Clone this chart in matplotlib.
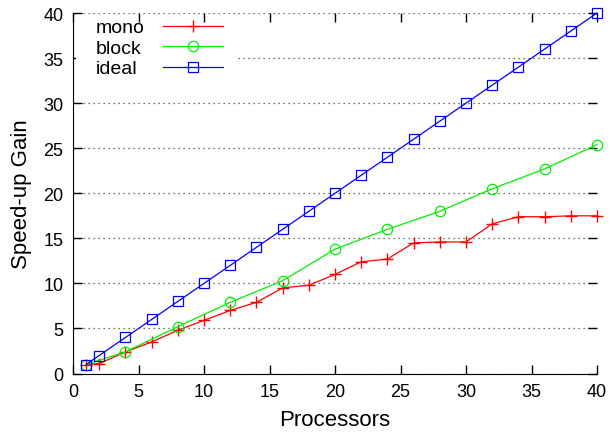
import matplotlib
matplotlib.use("Agg")
import matplotlib.pyplot as plt
from matplotlib.patches import Rectangle

# Dados
proc_mono = [1, 2, 4, 6, 8, 10, 12, 14, 16, 18, 20, 22, 24, 26, 28, 30, 32, 34, 36, 38, 40]
gain_mono = [1.0, 1.1, 2.4, 3.5, 4.8, 5.9, 7.0, 7.9, 9.5, 9.8, 11.0, 12.4, 12.7, 14.5, 14.6, 14.6, 16.6, 17.4, 17.4, 17.5, 17.5]

proc_block = [1, 4, 8, 12, 16, 20, 24, 28, 32, 36, 40]
gain_block = [1.0, 2.4, 5.2, 7.9, 10.3, 13.8, 16.0, 18.0, 20.5, 22.7, 25.4]

proc_ideal = [1, 2, 4, 6, 8, 10, 12, 14, 16, 18, 20, 22, 24, 26, 28, 30, 32, 34, 36, 38, 40]
gain_ideal = [1, 2, 4, 6, 8, 10, 12, 14, 16, 18, 20, 22, 24, 26, 28, 30, 32, 34, 36, 38, 40]

x_ticks = [0, 5, 10, 15, 20, 25, 30, 35, 40]
y_ticks = [0, 5, 10, 15, 20, 25, 30, 35, 40]

plt.rcParams['font.family'] = ['Liberation Sans', 'DejaVu Sans']

fig = plt.figure(figsize=(6.09, 4.35), dpi=100)
ax = fig.add_axes([0.1199, 0.139, 0.8604, 0.8287])

ax.plot(proc_mono, gain_mono, color='#ff0000', lw=0.9, marker='+', ms=8, mew=1, label='mono', clip_on=False, zorder=3)
ax.plot(proc_block, gain_block, color='#00ee00', lw=0.9, marker='o', ms=7.5, mfc='none', mew=0.9, label='block', clip_on=False, zorder=3)
ax.plot(proc_ideal, gain_ideal, color='#0000ff', lw=0.9, marker='s', ms=7, mfc='none', mew=0.9, label='ideal', clip_on=False, zorder=3)

ax.set_xlim(0, 40)
ax.set_ylim(0, 40)
ax.set_xticks(x_ticks)
ax.set_yticks(y_ticks)
ax.tick_params(direction='in', length=6.5, width=1, top=True, right=True, labelsize=13, pad=7)
ax.spines['top'].set_visible(False)
ax.spines['right'].set_visible(False)
ax.yaxis.grid(True, linestyle=(0, (1, 3)), color='#444444', lw=0.9)
ax.set_axisbelow(True)

# fundo branco atrás da legenda (esconde a grade)
ax.add_patch(Rectangle((0.005, 0.82), 0.305, 0.13, transform=ax.transAxes,
                       facecolor='white', edgecolor='none', zorder=1))

ax.set_xlabel('Processors', fontsize=16, labelpad=6)
ax.set_ylabel('Speed-up Gain', fontsize=16, labelpad=8)

leg = ax.legend(loc='upper left', bbox_to_anchor=(0.044, 0.984), frameon=False,
                markerfirst=False, fontsize=14, handlelength=3.1, labelspacing=0.15,
                borderaxespad=0, handletextpad=0.93, borderpad=0)

# alinhar os textos da legenda à esquerda, mantendo as linhas alinhadas
fig.canvas.draw()
r = fig.canvas.get_renderer()
col = leg._legend_handle_box.get_children()[0]
col.align = 'left'
larguras = [t.get_window_extent(r).width for t in leg.get_texts()]
wmax = max(larguras)
for linha, w in zip(col.get_children(), larguras):
    linha.sep = linha.sep + (wmax - w) / r.points_to_pixels(1.0)

fig.savefig('out.png', dpi=100)
